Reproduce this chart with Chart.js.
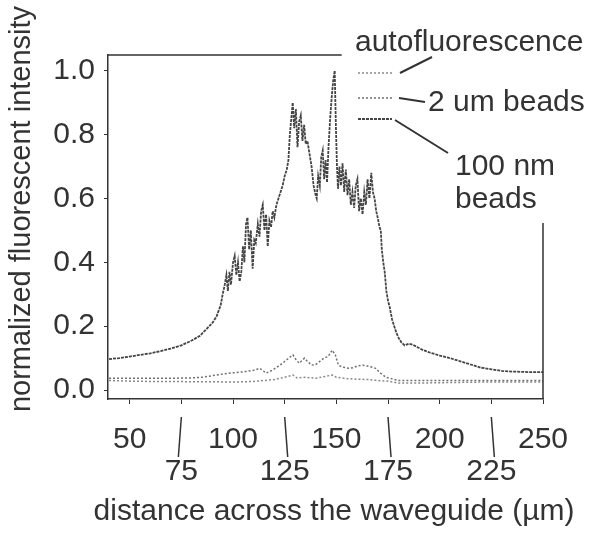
<!DOCTYPE html>
<html>
<head>
<meta charset="utf-8">
<script src="https://cdn.jsdelivr.net/npm/chart.js@4.4.1/dist/chart.umd.min.js"></script>
<style>
  body { margin: 0; background: #fff; }
  #wrap { width: 605px; height: 535px; }
</style>
</head>
<body>
<div id="wrap"><canvas id="profileChart" width="605" height="535"></canvas></div>
<script>
// tick values
const xTicks = [50, 75, 100, 125, 150, 175, 200, 225, 250];
const yTicks = [0, 0.2, 0.4, 0.6, 0.8, 1.0];

// 100 nm beads (main curve)
const beads100X = [40, 45, 50, 55, 60, 65, 70, 75, 80, 84, 87, 90, 92, 94,
  95, 96, 96.8, 97.5, 98.3, 99, 100, 100.8, 101.6, 102.4, 103.2, 104, 104.8, 105.5, 106.3, 107,
  107.8, 108.6, 109.5, 110.3, 111, 112, 112.8, 113.6, 114.4, 115.2, 116, 116.8, 117.6, 118.4, 119.2,
  120, 121, 122, 123, 124, 125, 126, 126.8, 127.5, 128.2, 128.9, 129.6, 130.4, 131.2, 132, 132.8,
  133.6, 134.4, 135.2, 136, 137, 138, 139, 140, 140.5, 141.2, 142, 142.7, 143.4, 144.1, 144.8, 145.5,
  146.2, 147, 147.8, 148.5, 149.2, 149.8, 150.3, 150.8, 151.5, 152.2, 153, 153.8, 154.6, 155.4, 156.2,
  157, 157.8, 158.6, 159.4, 160.2, 161, 161.8, 162.7, 163.5, 164.3, 165.1, 166, 166.9, 167.7, 168.5,
  169.3, 170, 170.9, 171.5, 172, 172.7, 173.4, 174.2, 175, 175.8, 177, 178, 179, 180, 181.4, 183, 185,
  187, 189, 192, 195, 200, 205, 210, 215, 220, 225, 230, 235, 240, 245, 250];
const beads100Y = [0.097, 0.100, 0.105, 0.110, 0.115, 0.122, 0.130, 0.140, 0.155, 0.170, 0.190, 0.210, 0.230, 0.265,
  0.30, 0.33, 0.36, 0.31, 0.37, 0.33, 0.40, 0.42, 0.36, 0.40, 0.34, 0.37, 0.45, 0.40, 0.52, 0.54,
  0.44, 0.50, 0.38, 0.47, 0.46, 0.52, 0.48, 0.56, 0.58, 0.50, 0.55, 0.45, 0.53, 0.51, 0.56,
  0.54, 0.58, 0.60, 0.62, 0.64, 0.67, 0.69, 0.72, 0.80, 0.85, 0.90, 0.82, 0.88, 0.76, 0.84, 0.86,
  0.78, 0.83, 0.77, 0.78, 0.74, 0.70, 0.64, 0.61, 0.60, 0.67, 0.64, 0.73, 0.75, 0.66, 0.72, 0.65,
  0.76, 0.85, 0.92, 0.97, 1.00, 0.82, 0.70, 0.63, 0.70, 0.64, 0.71, 0.62, 0.69, 0.61, 0.66,
  0.58, 0.62, 0.57, 0.64, 0.66, 0.56, 0.60, 0.55, 0.62, 0.58, 0.66, 0.60, 0.68, 0.62, 0.60,
  0.56, 0.54, 0.51, 0.50, 0.44, 0.40, 0.37, 0.31, 0.28, 0.26, 0.22, 0.20, 0.18, 0.165, 0.15, 0.14, 0.145,
  0.142, 0.135, 0.125, 0.118, 0.108, 0.100, 0.090, 0.080, 0.070, 0.065, 0.060, 0.058, 0.057, 0.056, 0.056];

// 2 um beads
const beads2umX = [40, 50, 60, 70, 80, 85, 90, 95, 100, 105, 110, 113, 116, 119, 122, 124, 126, 128, 129,
  130.5, 132, 134.6, 136, 138, 140, 142, 144, 146, 148, 149.5, 151, 153, 156, 158, 160, 162.7, 165,
  167, 169, 171, 174, 177, 180, 190, 200, 210, 220, 230, 240, 250];
const beads2umY = [0.037, 0.037, 0.037, 0.037, 0.038, 0.040, 0.045, 0.050, 0.054, 0.057, 0.062, 0.068, 0.053, 0.062, 0.075, 0.084, 0.095, 0.105, 0.110,
  0.095, 0.084, 0.100, 0.090, 0.078, 0.080, 0.090, 0.100, 0.105, 0.125, 0.110, 0.078, 0.072, 0.068, 0.070, 0.075, 0.078, 0.075,
  0.072, 0.068, 0.055, 0.040, 0.035, 0.030, 0.030, 0.030, 0.030, 0.030, 0.030, 0.030, 0.030];

// autofluorescence
const autoX = [40, 50, 60, 70, 80, 90, 100, 110, 120, 125, 129, 131, 135, 140, 144, 148, 150, 155, 160,
  165, 170, 175, 180, 190, 200, 210, 220, 230, 240, 250];
const autoY = [0.030, 0.028, 0.027, 0.027, 0.026, 0.026, 0.025, 0.027, 0.033, 0.040, 0.047, 0.038, 0.040, 0.037, 0.042, 0.047, 0.040, 0.036, 0.034,
  0.033, 0.030, 0.028, 0.022, 0.022, 0.023, 0.024, 0.025, 0.025, 0.025, 0.025];

const toPoints = (xs, ys) => xs.map((x, i) => ({x: x, y: ys[i]}));

const FONT = '"Liberation Sans", Arial, sans-serif';
const INK = '#333';

const decorPlugin = {
    id: 'decor',
    afterDraw(chart) {
        const ctx = chart.ctx;
        const {left, right, top, bottom} = chart.chartArea;
        const xs = chart.scales.x, ys = chart.scales.y;
        ctx.save();
        ctx.strokeStyle = INK;
        ctx.lineWidth = 1.5;

        // partial top and right frame
        ctx.beginPath();
        ctx.moveTo(left, top);
        ctx.lineTo(xs.getPixelForValue(152.6), top);
        ctx.moveTo(right, ys.getPixelForValue(0.523));
        ctx.lineTo(right, bottom);
        ctx.stroke();

        // leader lines for lower row of x labels
        [75, 125, 175, 225].forEach((v, i) => {
            const px = xs.getPixelForValue(v);
            const slant = i === 0 ? -3 : 3;
            ctx.beginPath();
            ctx.moveTo(px, bottom + 18);
            ctx.lineTo(px + slant, bottom + 58);
            ctx.stroke();
        });

        // legend samples
        const styles = chart.data.datasets;
        const sx0 = left + 250, sx1 = left + 284;
        const rows = [top + 18, top + 43, top + 64];
        rows.forEach((ry, i) => {
            ctx.strokeStyle = styles[i].borderColor;
            ctx.lineWidth = styles[i].borderWidth;
            ctx.setLineDash(styles[i].borderDash || []);
            ctx.beginPath();
            ctx.moveTo(sx0, ry);
            ctx.lineTo(sx1, ry);
            ctx.stroke();
        });
        ctx.setLineDash([]);
        ctx.strokeStyle = INK;
        ctx.lineWidth = 2;
        ctx.beginPath();
        ctx.moveTo(left + 292, top + 18);
        ctx.lineTo(left + 324, top + 2);
        ctx.moveTo(left + 291, top + 43);
        ctx.lineTo(left + 317, top + 47);
        ctx.moveTo(left + 287, top + 65);
        ctx.lineTo(left + 340, top + 98);
        ctx.stroke();

        // legend text
        ctx.fillStyle = INK;
        ctx.font = '30px ' + FONT;
        ctx.textBaseline = 'middle';
        ctx.textAlign = 'left';
        ctx.fillText('autofluorescence', left + 247, top - 12);
        ctx.fillText('2 um beads', left + 320, top + 48);
        ctx.fillText('100 nm', left + 347, top + 112);
        ctx.fillText('beads', left + 347, top + 145);

        // axis titles
        ctx.textAlign = 'center';
        ctx.fillText('distance across the waveguide (µm)', 334, 512);
        ctx.font = '29px ' + FONT;
        ctx.translate(22, 209);
        ctx.rotate(-Math.PI / 2);
        ctx.fillText('normalized fluorescent intensity', 0, 0);
        ctx.restore();
    }
};

const ref = document.getElementById('profileChart').getContext('2d');
const profileChart = new Chart(ref, {
    type: 'line',
    data: {
        datasets: [
            {
                label: 'autofluorescence',
                data: toPoints(autoX, autoY),
                borderColor: '#8a8a8a',
                borderWidth: 1.5,
                borderDash: [2, 2],
                pointRadius: 0,
                tension: 0
            },
            {
                label: '2 um beads',
                data: toPoints(beads2umX, beads2umY),
                borderColor: '#707070',
                borderWidth: 1.5,
                borderDash: [2, 2],
                pointRadius: 0,
                tension: 0
            },
            {
                label: '100 nm beads',
                data: toPoints(beads100X, beads100Y),
                borderColor: '#444',
                borderWidth: 1.8,
                borderDash: [3, 1],
                pointRadius: 0,
                tension: 0
            }
        ]
    },
    options: {
        responsive: false,
        animation: false,
        layout: { padding: { left: 0, top: 55, right: 62, bottom: 0 } },
        plugins: {
            legend: { display: false },
            tooltip: { enabled: false }
        },
        scales: {
            x: {
                type: 'linear',
                min: 39.5,
                max: 250,
                afterBuildTicks: (scale) => { scale.ticks = xTicks.map(v => ({value: v})); },
                afterFit: (scale) => { scale.height = 136; },
                grid: { display: true, drawOnChartArea: false, drawTicks: true, tickLength: 5, color: INK },
                border: { display: true, color: INK, width: 1.5 },
                ticks: {
                    color: INK,
                    padding: 20,
                    maxRotation: 0,
                    autoSkip: false,
                    font: { family: FONT, size: 30, lineHeight: 1.07 },
                    callback: (v) => (v % 50 === 0 ? String(v) : ['', String(v)])
                }
            },
            y: {
                min: -0.028,
                max: 1.049,
                afterBuildTicks: (scale) => { scale.ticks = yTicks.map(v => ({value: v})); },
                afterFit: (scale) => { scale.width = 108; },
                grid: { display: true, drawOnChartArea: false, drawTicks: true, tickLength: 4, color: INK },
                border: { display: true, color: INK, width: 1.5 },
                ticks: {
                    color: INK,
                    padding: 9,
                    font: { family: FONT, size: 30 },
                    callback: (v) => v.toFixed(1)
                }
            }
        }
    },
    plugins: [decorPlugin]
});
</script>
</body>
</html>
